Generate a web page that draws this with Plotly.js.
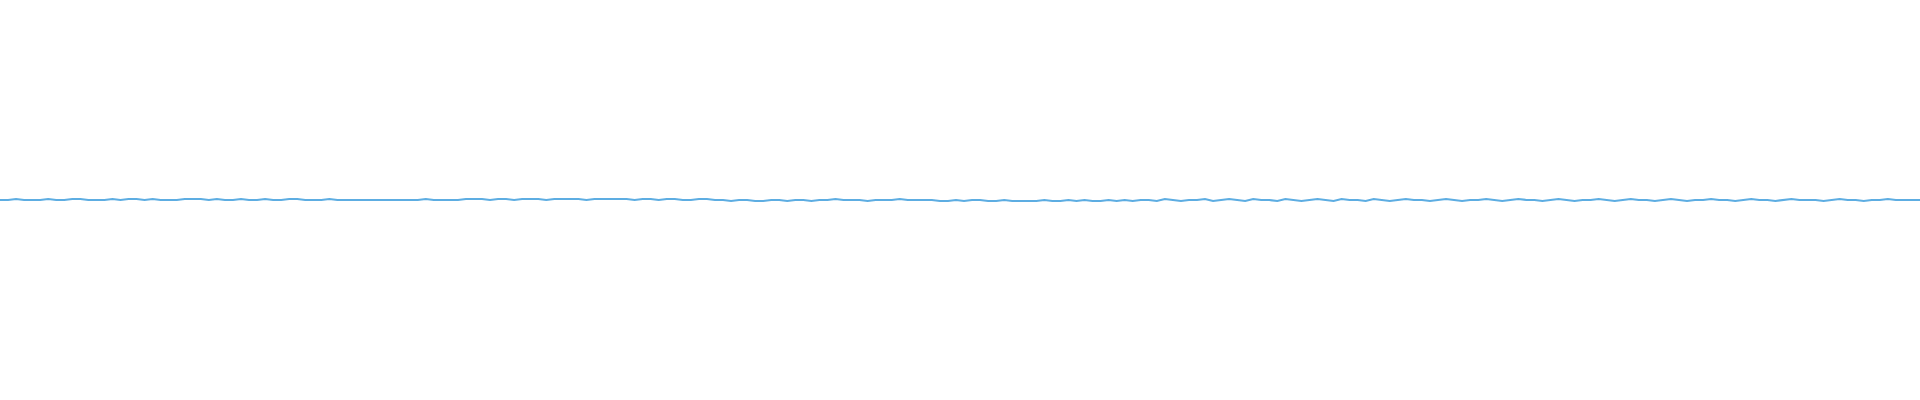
<!DOCTYPE html>
<html>
<head>
<meta charset="utf-8">
<script src="https://cdn.plot.ly/plotly-3.0.1.min.js"></script>
<style>
  html, body { margin: 0; padding: 0; background: #fff; }
  #chart { width: 1920px; height: 400px; }
</style>
</head>
<body>
<div id="chart"></div>
<script>
// signal values (roughly flat, tiny wiggle)
var part1 = [0, 0, 0.5, 0, 0, 0, 0.5, 0, 0, 0.5, 0.5, 0, 0, 0, 0.5, 0, 0.5, 0.5, 0, 0.5,
             0, 0, 0, 0.5, 0.5, 0.5, 0, 0.5, 0, 0, 0.5, 0, 0, 0.5, 0, 0, 0.5, 0.5, 0, 0,
             0, 0.5, 0, 0, 0, 0, 0, 0, 0, 0, 0, 0, 0, 0.5, 0, 0, 0, 0, 0.5, 0.5,
             0.5, 0, 0.5, 0.5, 0, 0.5, 0.5, 0.5, 0, 0.5, 0.5, 0.5, 0.5, 0, 0.5, 0.5, 0.5, 0.5, 0.5, 0];
var part2 = [0.5, 0.5, 0, 0.5, 0.5, 0, 0, 0.5, 0.5, 0, 0, -0.5, 0, 0, -0.5, -0.5, 0, 0, -0.5, 0,
             0, -0.5, 0, 0, 0.5, 0, 0, 0, -0.5, 0, 0, 0, 0.5, 0, 0, 0, 0, -0.5, -0.5, 0,
             -0.5, 0, 0, -0.5, -0.5, 0, -0.5, -0.5, -0.5, -0.5, 0, -0.5, -0.5, 0, -0.5, 0, -0.5, -0.5, 0, -0.5,
             0, -0.5, 0, 0, -0.5, 0.5, 0, -0.5, 0, 0, 0.5, -0.5, 0, 0.5, 0, -0.5, 0.5, 0, 0, -0.5];
var part3 = [0.5, 0, -0.5, 0, 0.5, 0, -0.5, 0.5, 0, 0, -0.5, 0.5, 0, -0.5, 0, 0.5, 0, 0, -0.5, 0,
             0.5, 0, -0.5, 0, 0, 0.5, 0, -0.5, 0, 0.5, 0, 0, -0.5, 0, 0.5, 0, -0.5, 0, 0, 0.5,
             0, -0.5, 0, 0.5, 0, 0, -0.5, 0, 0.5, 0, -0.5, 0, 0, 0.5, 0, 0, -0.5, 0, 0.5, 0,
             0, -0.5, 0, 0.5, 0, 0, 0, -0.5, 0, 0.5, 0, 0, -0.5, 0, 0, 0.5, 0, 0, 0, 0];

var values = part1.concat(part2, part3);
var idx = values.map(function (v, i) { return i; });

var trace = {
  x: idx,
  y: values,
  type: 'scatter',
  mode: 'lines',
  hoverinfo: 'none',
  line: { color: '#5dade2', width: 2.2 }
};

var layout = {
  width: 1920,
  height: 400,
  margin: { l: 0, r: 0, t: 0, b: 0 },
  paper_bgcolor: '#fff',
  plot_bgcolor: '#fff',
  showlegend: false,
  xaxis: { visible: false, range: [0, values.length - 1] },
  yaxis: { visible: false, range: [-100, 100] }
};

Plotly.newPlot('chart', [trace], layout, { staticPlot: true, displayModeBar: false });
</script>
</body>
</html>
